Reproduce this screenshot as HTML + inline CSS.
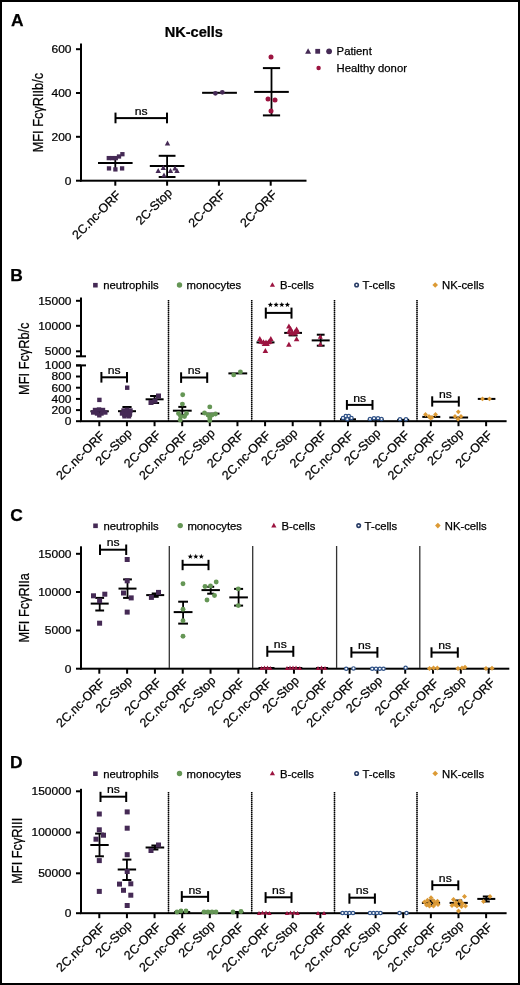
<!DOCTYPE html>
<html><head><meta charset="utf-8"><style>
html,body{margin:0;padding:0;background:#fff;}
svg{display:block;will-change:transform;}
text{font-family:"Liberation Sans", sans-serif;stroke:#000;stroke-width:0.25px;}
</style></head><body>
<svg width="520" height="985" viewBox="0 0 520 985">
<rect x="0" y="0" width="520" height="985" fill="#fff"/>
<rect x="0.00" y="0.00" width="520.00" height="2.00" fill="#000"/>
<rect x="0.00" y="983.00" width="520.00" height="2.00" fill="#000"/>
<rect x="0.00" y="0.00" width="2.00" height="985.00" fill="#000"/>
<rect x="518.00" y="0.00" width="2.00" height="985.00" fill="#000"/>
<text x="11.00" y="26.30" font-size="17.4" text-anchor="start" font-weight="bold" fill="#000">A</text>
<text x="0" y="0" font-size="14.6" text-anchor="middle" font-weight="bold" fill="#000" transform="translate(193.80 36.90) scale(1.0 0.95)">NK-cells</text>
<rect x="80.00" y="43.50" width="2.00" height="138.00" fill="#000"/>
<rect x="76.00" y="48.20" width="5.00" height="2.00" fill="#000"/>
<text x="0" y="0" font-size="12" text-anchor="end" font-weight="normal" fill="#000" transform="translate(71.50 53.05) scale(1.0 0.87)">600</text>
<rect x="76.00" y="92.00" width="5.00" height="2.00" fill="#000"/>
<text x="0" y="0" font-size="12" text-anchor="end" font-weight="normal" fill="#000" transform="translate(71.50 96.85) scale(1.0 0.87)">400</text>
<rect x="76.00" y="135.80" width="5.00" height="2.00" fill="#000"/>
<text x="0" y="0" font-size="12" text-anchor="end" font-weight="normal" fill="#000" transform="translate(71.50 140.65) scale(1.0 0.87)">200</text>
<rect x="76.00" y="179.70" width="5.00" height="2.00" fill="#000"/>
<text x="0" y="0" font-size="12" text-anchor="end" font-weight="normal" fill="#000" transform="translate(71.50 184.55) scale(1.0 0.87)">0</text>
<rect x="80.00" y="179.70" width="226.50" height="2.00" fill="#000"/>
<rect x="114.30" y="180.70" width="2.00" height="5.00" fill="#000"/>
<rect x="166.10" y="180.70" width="2.00" height="5.00" fill="#000"/>
<rect x="217.90" y="180.70" width="2.00" height="5.00" fill="#000"/>
<rect x="269.70" y="180.70" width="2.00" height="5.00" fill="#000"/>
<text x="121.60" y="195.80" font-size="12.4" text-anchor="end" font-weight="normal" fill="#000" transform="rotate(-45 121.60 195.80)">2C.nc-ORF</text>
<text x="172.90" y="193.40" font-size="12.4" text-anchor="end" font-weight="normal" fill="#000" transform="rotate(-45 172.90 193.40)">2C-Stop</text>
<text x="226.00" y="195.30" font-size="12.4" text-anchor="end" font-weight="normal" fill="#000" transform="rotate(-45 226.00 195.30)">2C-ORF</text>
<text x="277.80" y="195.30" font-size="12.4" text-anchor="end" font-weight="normal" fill="#000" transform="rotate(-45 277.80 195.30)">2C-ORF</text>
<text x="0" y="0" font-size="15.5" text-anchor="middle" font-weight="normal" fill="#000" transform="translate(42.70 112.60) rotate(-90) scale(0.825 1.0)">MFI Fc&#947;RIIb/c</text>
<text x="336.60" y="54.60" font-size="11.3" text-anchor="start" font-weight="normal" fill="#000">Patient</text>
<text x="336.60" y="72.30" font-size="11.3" text-anchor="start" font-weight="normal" fill="#000">Healthy donor</text>
<text x="10.30" y="280.50" font-size="17.4" text-anchor="start" font-weight="bold" fill="#000">B</text>
<text x="103.30" y="289.00" font-size="11.3" text-anchor="start" font-weight="normal" fill="#000">neutrophils</text>
<text x="186.60" y="289.00" font-size="11.3" text-anchor="start" font-weight="normal" fill="#000">monocytes</text>
<text x="280.00" y="289.00" font-size="11.3" text-anchor="start" font-weight="normal" fill="#000">B-cells</text>
<text x="362.50" y="289.00" font-size="11.3" text-anchor="start" font-weight="normal" fill="#000">T-cells</text>
<text x="442.00" y="289.00" font-size="11.3" text-anchor="start" font-weight="normal" fill="#000">NK-cells</text>
<rect x="80.00" y="297.50" width="2.00" height="58.80" fill="#000"/>
<rect x="76.00" y="355.30" width="10.00" height="2.00" fill="#000"/>
<rect x="80.00" y="365.40" width="2.00" height="56.60" fill="#000"/>
<rect x="76.00" y="364.40" width="10.00" height="2.00" fill="#000"/>
<rect x="76.00" y="299.80" width="5.00" height="2.00" fill="#000"/>
<text x="0" y="0" font-size="12" text-anchor="end" font-weight="normal" fill="#000" transform="translate(71.50 304.65) scale(1.0 0.87)">15000</text>
<rect x="76.00" y="324.80" width="5.00" height="2.00" fill="#000"/>
<text x="0" y="0" font-size="12" text-anchor="end" font-weight="normal" fill="#000" transform="translate(71.50 329.65) scale(1.0 0.87)">10000</text>
<rect x="76.00" y="350.30" width="5.00" height="2.00" fill="#000"/>
<text x="0" y="0" font-size="12" text-anchor="end" font-weight="normal" fill="#000" transform="translate(71.50 355.15) scale(1.0 0.87)">5000</text>
<rect x="76.00" y="364.40" width="5.00" height="2.00" fill="#000"/>
<text x="0" y="0" font-size="12" text-anchor="end" font-weight="normal" fill="#000" transform="translate(71.50 369.25) scale(1.0 0.87)">1000</text>
<rect x="76.00" y="375.50" width="5.00" height="2.00" fill="#000"/>
<text x="0" y="0" font-size="12" text-anchor="end" font-weight="normal" fill="#000" transform="translate(71.50 380.35) scale(1.0 0.87)">800</text>
<rect x="76.00" y="386.70" width="5.00" height="2.00" fill="#000"/>
<text x="0" y="0" font-size="12" text-anchor="end" font-weight="normal" fill="#000" transform="translate(71.50 391.55) scale(1.0 0.87)">600</text>
<rect x="76.00" y="397.90" width="5.00" height="2.00" fill="#000"/>
<text x="0" y="0" font-size="12" text-anchor="end" font-weight="normal" fill="#000" transform="translate(71.50 402.75) scale(1.0 0.87)">400</text>
<rect x="76.00" y="409.10" width="5.00" height="2.00" fill="#000"/>
<text x="0" y="0" font-size="12" text-anchor="end" font-weight="normal" fill="#000" transform="translate(71.50 413.95) scale(1.0 0.87)">200</text>
<rect x="76.00" y="420.20" width="5.00" height="2.00" fill="#000"/>
<text x="0" y="0" font-size="12" text-anchor="end" font-weight="normal" fill="#000" transform="translate(71.50 425.05) scale(1.0 0.87)">0</text>
<rect x="80.00" y="420.20" width="426.60" height="2.00" fill="#000"/>
<rect x="98.30" y="421.20" width="2.00" height="5.00" fill="#000"/>
<rect x="125.93" y="421.20" width="2.00" height="5.00" fill="#000"/>
<rect x="153.56" y="421.20" width="2.00" height="5.00" fill="#000"/>
<rect x="181.19" y="421.20" width="2.00" height="5.00" fill="#000"/>
<rect x="208.82" y="421.20" width="2.00" height="5.00" fill="#000"/>
<rect x="236.45" y="421.20" width="2.00" height="5.00" fill="#000"/>
<rect x="264.08" y="421.20" width="2.00" height="5.00" fill="#000"/>
<rect x="291.71" y="421.20" width="2.00" height="5.00" fill="#000"/>
<rect x="319.34" y="421.20" width="2.00" height="5.00" fill="#000"/>
<rect x="346.97" y="421.20" width="2.00" height="5.00" fill="#000"/>
<rect x="374.60" y="421.20" width="2.00" height="5.00" fill="#000"/>
<rect x="402.23" y="421.20" width="2.00" height="5.00" fill="#000"/>
<rect x="429.86" y="421.20" width="2.00" height="5.00" fill="#000"/>
<rect x="457.49" y="421.20" width="2.00" height="5.00" fill="#000"/>
<rect x="485.12" y="421.20" width="2.00" height="5.00" fill="#000"/>
<text x="105.60" y="436.30" font-size="12.4" text-anchor="end" font-weight="normal" fill="#000" transform="rotate(-45 105.60 436.30)">2C.nc-ORF</text>
<text x="132.73" y="433.90" font-size="12.4" text-anchor="end" font-weight="normal" fill="#000" transform="rotate(-45 132.73 433.90)">2C-Stop</text>
<text x="161.66" y="435.80" font-size="12.4" text-anchor="end" font-weight="normal" fill="#000" transform="rotate(-45 161.66 435.80)">2C-ORF</text>
<text x="188.49" y="436.30" font-size="12.4" text-anchor="end" font-weight="normal" fill="#000" transform="rotate(-45 188.49 436.30)">2C.nc-ORF</text>
<text x="215.62" y="433.90" font-size="12.4" text-anchor="end" font-weight="normal" fill="#000" transform="rotate(-45 215.62 433.90)">2C-Stop</text>
<text x="244.55" y="435.80" font-size="12.4" text-anchor="end" font-weight="normal" fill="#000" transform="rotate(-45 244.55 435.80)">2C-ORF</text>
<text x="271.38" y="436.30" font-size="12.4" text-anchor="end" font-weight="normal" fill="#000" transform="rotate(-45 271.38 436.30)">2C.nc-ORF</text>
<text x="298.51" y="433.90" font-size="12.4" text-anchor="end" font-weight="normal" fill="#000" transform="rotate(-45 298.51 433.90)">2C-Stop</text>
<text x="327.44" y="435.80" font-size="12.4" text-anchor="end" font-weight="normal" fill="#000" transform="rotate(-45 327.44 435.80)">2C-ORF</text>
<text x="354.27" y="436.30" font-size="12.4" text-anchor="end" font-weight="normal" fill="#000" transform="rotate(-45 354.27 436.30)">2C.nc-ORF</text>
<text x="381.40" y="433.90" font-size="12.4" text-anchor="end" font-weight="normal" fill="#000" transform="rotate(-45 381.40 433.90)">2C-Stop</text>
<text x="410.33" y="435.80" font-size="12.4" text-anchor="end" font-weight="normal" fill="#000" transform="rotate(-45 410.33 435.80)">2C-ORF</text>
<text x="437.16" y="436.30" font-size="12.4" text-anchor="end" font-weight="normal" fill="#000" transform="rotate(-45 437.16 436.30)">2C.nc-ORF</text>
<text x="464.29" y="433.90" font-size="12.4" text-anchor="end" font-weight="normal" fill="#000" transform="rotate(-45 464.29 433.90)">2C-Stop</text>
<text x="493.22" y="435.80" font-size="12.4" text-anchor="end" font-weight="normal" fill="#000" transform="rotate(-45 493.22 435.80)">2C-ORF</text>
<line x1="168.5" y1="300" x2="168.5" y2="421" stroke="#888" stroke-width="1.2"/>
<line x1="168.5" y1="300" x2="168.5" y2="421" stroke="#000" stroke-width="1.5" stroke-dasharray="1.3,0.7"/>
<line x1="251.7" y1="300" x2="251.7" y2="421" stroke="#888" stroke-width="1.2"/>
<line x1="251.7" y1="300" x2="251.7" y2="421" stroke="#000" stroke-width="1.5" stroke-dasharray="1.3,0.7"/>
<line x1="334.5" y1="300" x2="334.5" y2="421" stroke="#888" stroke-width="1.2"/>
<line x1="334.5" y1="300" x2="334.5" y2="421" stroke="#000" stroke-width="1.5" stroke-dasharray="1.3,0.7"/>
<line x1="417.0" y1="300" x2="417.0" y2="421" stroke="#888" stroke-width="1.2"/>
<line x1="417.0" y1="300" x2="417.0" y2="421" stroke="#000" stroke-width="1.5" stroke-dasharray="1.3,0.7"/>
<text x="0" y="0" font-size="15.5" text-anchor="middle" font-weight="normal" fill="#000" transform="translate(28.80 358.70) rotate(-90) scale(0.825 1.0)">MFI Fc&#947;Rb/c</text>
<text x="10.30" y="520.80" font-size="17.4" text-anchor="start" font-weight="bold" fill="#000">C</text>
<text x="103.47" y="529.60" font-size="11.3" text-anchor="start" font-weight="normal" fill="#000">neutrophils</text>
<text x="187.40" y="529.60" font-size="11.3" text-anchor="start" font-weight="normal" fill="#000">monocytes</text>
<text x="281.50" y="529.60" font-size="11.3" text-anchor="start" font-weight="normal" fill="#000">B-cells</text>
<text x="364.62" y="529.60" font-size="11.3" text-anchor="start" font-weight="normal" fill="#000">T-cells</text>
<text x="444.72" y="529.60" font-size="11.3" text-anchor="start" font-weight="normal" fill="#000">NK-cells</text>
<rect x="80.00" y="546.30" width="2.00" height="123.40" fill="#000"/>
<rect x="76.00" y="552.80" width="5.00" height="2.00" fill="#000"/>
<text x="0" y="0" font-size="12" text-anchor="end" font-weight="normal" fill="#000" transform="translate(71.50 557.65) scale(1.0 0.87)">15000</text>
<rect x="76.00" y="591.00" width="5.00" height="2.00" fill="#000"/>
<text x="0" y="0" font-size="12" text-anchor="end" font-weight="normal" fill="#000" transform="translate(71.50 595.85) scale(1.0 0.87)">10000</text>
<rect x="76.00" y="629.50" width="5.00" height="2.00" fill="#000"/>
<text x="0" y="0" font-size="12" text-anchor="end" font-weight="normal" fill="#000" transform="translate(71.50 634.35) scale(1.0 0.87)">5000</text>
<rect x="76.00" y="667.70" width="5.00" height="2.00" fill="#000"/>
<text x="0" y="0" font-size="12" text-anchor="end" font-weight="normal" fill="#000" transform="translate(71.50 672.55) scale(1.0 0.87)">0</text>
<rect x="80.00" y="667.70" width="429.30" height="2.00" fill="#000"/>
<rect x="98.30" y="668.70" width="2.00" height="5.00" fill="#000"/>
<rect x="126.11" y="668.70" width="2.00" height="5.00" fill="#000"/>
<rect x="153.92" y="668.70" width="2.00" height="5.00" fill="#000"/>
<rect x="181.73" y="668.70" width="2.00" height="5.00" fill="#000"/>
<rect x="209.54" y="668.70" width="2.00" height="5.00" fill="#000"/>
<rect x="237.35" y="668.70" width="2.00" height="5.00" fill="#000"/>
<rect x="265.16" y="668.70" width="2.00" height="5.00" fill="#000"/>
<rect x="292.97" y="668.70" width="2.00" height="5.00" fill="#000"/>
<rect x="320.78" y="668.70" width="2.00" height="5.00" fill="#000"/>
<rect x="348.59" y="668.70" width="2.00" height="5.00" fill="#000"/>
<rect x="376.40" y="668.70" width="2.00" height="5.00" fill="#000"/>
<rect x="404.21" y="668.70" width="2.00" height="5.00" fill="#000"/>
<rect x="432.02" y="668.70" width="2.00" height="5.00" fill="#000"/>
<rect x="459.83" y="668.70" width="2.00" height="5.00" fill="#000"/>
<rect x="487.64" y="668.70" width="2.00" height="5.00" fill="#000"/>
<text x="105.60" y="683.80" font-size="12.4" text-anchor="end" font-weight="normal" fill="#000" transform="rotate(-45 105.60 683.80)">2C.nc-ORF</text>
<text x="132.91" y="681.40" font-size="12.4" text-anchor="end" font-weight="normal" fill="#000" transform="rotate(-45 132.91 681.40)">2C-Stop</text>
<text x="162.02" y="683.30" font-size="12.4" text-anchor="end" font-weight="normal" fill="#000" transform="rotate(-45 162.02 683.30)">2C-ORF</text>
<text x="189.03" y="683.80" font-size="12.4" text-anchor="end" font-weight="normal" fill="#000" transform="rotate(-45 189.03 683.80)">2C.nc-ORF</text>
<text x="216.34" y="681.40" font-size="12.4" text-anchor="end" font-weight="normal" fill="#000" transform="rotate(-45 216.34 681.40)">2C-Stop</text>
<text x="245.45" y="683.30" font-size="12.4" text-anchor="end" font-weight="normal" fill="#000" transform="rotate(-45 245.45 683.30)">2C-ORF</text>
<text x="272.46" y="683.80" font-size="12.4" text-anchor="end" font-weight="normal" fill="#000" transform="rotate(-45 272.46 683.80)">2C.nc-ORF</text>
<text x="299.77" y="681.40" font-size="12.4" text-anchor="end" font-weight="normal" fill="#000" transform="rotate(-45 299.77 681.40)">2C-Stop</text>
<text x="328.88" y="683.30" font-size="12.4" text-anchor="end" font-weight="normal" fill="#000" transform="rotate(-45 328.88 683.30)">2C-ORF</text>
<text x="355.89" y="683.80" font-size="12.4" text-anchor="end" font-weight="normal" fill="#000" transform="rotate(-45 355.89 683.80)">2C.nc-ORF</text>
<text x="383.20" y="681.40" font-size="12.4" text-anchor="end" font-weight="normal" fill="#000" transform="rotate(-45 383.20 681.40)">2C-Stop</text>
<text x="412.31" y="683.30" font-size="12.4" text-anchor="end" font-weight="normal" fill="#000" transform="rotate(-45 412.31 683.30)">2C-ORF</text>
<text x="439.32" y="683.80" font-size="12.4" text-anchor="end" font-weight="normal" fill="#000" transform="rotate(-45 439.32 683.80)">2C.nc-ORF</text>
<text x="466.63" y="681.40" font-size="12.4" text-anchor="end" font-weight="normal" fill="#000" transform="rotate(-45 466.63 681.40)">2C-Stop</text>
<text x="495.74" y="683.30" font-size="12.4" text-anchor="end" font-weight="normal" fill="#000" transform="rotate(-45 495.74 683.30)">2C-ORF</text>
<line x1="169.3" y1="546" x2="169.3" y2="668" stroke="#333" stroke-width="1.3"/>
<line x1="252.7" y1="546" x2="252.7" y2="668" stroke="#333" stroke-width="1.3"/>
<line x1="336.6" y1="546" x2="336.6" y2="668" stroke="#333" stroke-width="1.3"/>
<line x1="419.8" y1="546" x2="419.8" y2="668" stroke="#333" stroke-width="1.3"/>
<text x="0" y="0" font-size="15.5" text-anchor="middle" font-weight="normal" fill="#000" transform="translate(28.90 607.80) rotate(-90) scale(0.825 1.0)">MFI Fc&#947;RIIa</text>
<text x="10.10" y="768.20" font-size="17.4" text-anchor="start" font-weight="bold" fill="#000">D</text>
<text x="103.30" y="777.50" font-size="11.3" text-anchor="start" font-weight="normal" fill="#000">neutrophils</text>
<text x="186.60" y="777.50" font-size="11.3" text-anchor="start" font-weight="normal" fill="#000">monocytes</text>
<text x="280.00" y="777.50" font-size="11.3" text-anchor="start" font-weight="normal" fill="#000">B-cells</text>
<text x="362.50" y="777.50" font-size="11.3" text-anchor="start" font-weight="normal" fill="#000">T-cells</text>
<text x="442.00" y="777.50" font-size="11.3" text-anchor="start" font-weight="normal" fill="#000">NK-cells</text>
<rect x="80.00" y="788.80" width="2.00" height="125.20" fill="#000"/>
<rect x="76.00" y="790.30" width="5.00" height="2.00" fill="#000"/>
<text x="0" y="0" font-size="12" text-anchor="end" font-weight="normal" fill="#000" transform="translate(71.50 795.15) scale(1.0 0.87)">150000</text>
<rect x="76.00" y="831.50" width="5.00" height="2.00" fill="#000"/>
<text x="0" y="0" font-size="12" text-anchor="end" font-weight="normal" fill="#000" transform="translate(71.50 836.35) scale(1.0 0.87)">100000</text>
<rect x="76.00" y="872.30" width="5.00" height="2.00" fill="#000"/>
<text x="0" y="0" font-size="12" text-anchor="end" font-weight="normal" fill="#000" transform="translate(71.50 877.15) scale(1.0 0.87)">50000</text>
<rect x="76.00" y="912.20" width="5.00" height="2.00" fill="#000"/>
<text x="0" y="0" font-size="12" text-anchor="end" font-weight="normal" fill="#000" transform="translate(71.50 917.05) scale(1.0 0.87)">0</text>
<rect x="80.00" y="912.20" width="426.60" height="2.00" fill="#000"/>
<rect x="98.30" y="913.20" width="2.00" height="5.00" fill="#000"/>
<rect x="125.93" y="913.20" width="2.00" height="5.00" fill="#000"/>
<rect x="153.56" y="913.20" width="2.00" height="5.00" fill="#000"/>
<rect x="181.19" y="913.20" width="2.00" height="5.00" fill="#000"/>
<rect x="208.82" y="913.20" width="2.00" height="5.00" fill="#000"/>
<rect x="236.45" y="913.20" width="2.00" height="5.00" fill="#000"/>
<rect x="264.08" y="913.20" width="2.00" height="5.00" fill="#000"/>
<rect x="291.71" y="913.20" width="2.00" height="5.00" fill="#000"/>
<rect x="319.34" y="913.20" width="2.00" height="5.00" fill="#000"/>
<rect x="346.97" y="913.20" width="2.00" height="5.00" fill="#000"/>
<rect x="374.60" y="913.20" width="2.00" height="5.00" fill="#000"/>
<rect x="402.23" y="913.20" width="2.00" height="5.00" fill="#000"/>
<rect x="429.86" y="913.20" width="2.00" height="5.00" fill="#000"/>
<rect x="457.49" y="913.20" width="2.00" height="5.00" fill="#000"/>
<rect x="485.12" y="913.20" width="2.00" height="5.00" fill="#000"/>
<text x="105.60" y="928.30" font-size="12.4" text-anchor="end" font-weight="normal" fill="#000" transform="rotate(-45 105.60 928.30)">2C.nc-ORF</text>
<text x="132.73" y="925.90" font-size="12.4" text-anchor="end" font-weight="normal" fill="#000" transform="rotate(-45 132.73 925.90)">2C-Stop</text>
<text x="161.66" y="927.80" font-size="12.4" text-anchor="end" font-weight="normal" fill="#000" transform="rotate(-45 161.66 927.80)">2C-ORF</text>
<text x="188.49" y="928.30" font-size="12.4" text-anchor="end" font-weight="normal" fill="#000" transform="rotate(-45 188.49 928.30)">2C.nc-ORF</text>
<text x="215.62" y="925.90" font-size="12.4" text-anchor="end" font-weight="normal" fill="#000" transform="rotate(-45 215.62 925.90)">2C-Stop</text>
<text x="244.55" y="927.80" font-size="12.4" text-anchor="end" font-weight="normal" fill="#000" transform="rotate(-45 244.55 927.80)">2C-ORF</text>
<text x="271.38" y="928.30" font-size="12.4" text-anchor="end" font-weight="normal" fill="#000" transform="rotate(-45 271.38 928.30)">2C.nc-ORF</text>
<text x="298.51" y="925.90" font-size="12.4" text-anchor="end" font-weight="normal" fill="#000" transform="rotate(-45 298.51 925.90)">2C-Stop</text>
<text x="327.44" y="927.80" font-size="12.4" text-anchor="end" font-weight="normal" fill="#000" transform="rotate(-45 327.44 927.80)">2C-ORF</text>
<text x="354.27" y="928.30" font-size="12.4" text-anchor="end" font-weight="normal" fill="#000" transform="rotate(-45 354.27 928.30)">2C.nc-ORF</text>
<text x="381.40" y="925.90" font-size="12.4" text-anchor="end" font-weight="normal" fill="#000" transform="rotate(-45 381.40 925.90)">2C-Stop</text>
<text x="410.33" y="927.80" font-size="12.4" text-anchor="end" font-weight="normal" fill="#000" transform="rotate(-45 410.33 927.80)">2C-ORF</text>
<text x="437.16" y="928.30" font-size="12.4" text-anchor="end" font-weight="normal" fill="#000" transform="rotate(-45 437.16 928.30)">2C.nc-ORF</text>
<text x="464.29" y="925.90" font-size="12.4" text-anchor="end" font-weight="normal" fill="#000" transform="rotate(-45 464.29 925.90)">2C-Stop</text>
<text x="493.22" y="927.80" font-size="12.4" text-anchor="end" font-weight="normal" fill="#000" transform="rotate(-45 493.22 927.80)">2C-ORF</text>
<line x1="168.5" y1="792" x2="168.5" y2="913" stroke="#888" stroke-width="1.2"/>
<line x1="168.5" y1="792" x2="168.5" y2="913" stroke="#000" stroke-width="1.5" stroke-dasharray="1.3,0.7"/>
<line x1="251.7" y1="792" x2="251.7" y2="913" stroke="#888" stroke-width="1.2"/>
<line x1="251.7" y1="792" x2="251.7" y2="913" stroke="#000" stroke-width="1.5" stroke-dasharray="1.3,0.7"/>
<line x1="334.5" y1="792" x2="334.5" y2="913" stroke="#888" stroke-width="1.2"/>
<line x1="334.5" y1="792" x2="334.5" y2="913" stroke="#000" stroke-width="1.5" stroke-dasharray="1.3,0.7"/>
<line x1="417.0" y1="792" x2="417.0" y2="913" stroke="#888" stroke-width="1.2"/>
<line x1="417.0" y1="792" x2="417.0" y2="913" stroke="#000" stroke-width="1.5" stroke-dasharray="1.3,0.7"/>
<text x="0" y="0" font-size="15.5" text-anchor="middle" font-weight="normal" fill="#000" transform="translate(22.00 850.80) rotate(-90) scale(0.825 1.0)">MFI Fc&#947;RIII</text>
<rect x="98.00" y="162.00" width="34.60" height="2.00" fill="#000"/>
<rect x="114.40" y="157.50" width="1.80" height="5.50" fill="#000"/>
<rect x="114.40" y="163.00" width="1.80" height="5.50" fill="#000"/>
<rect x="149.80" y="165.00" width="34.60" height="2.00" fill="#000"/>
<rect x="166.20" y="155.80" width="1.80" height="10.20" fill="#000"/>
<rect x="158.70" y="154.80" width="16.80" height="2.00" fill="#000"/>
<rect x="166.20" y="166.00" width="1.80" height="11.00" fill="#000"/>
<rect x="158.70" y="176.00" width="16.80" height="2.00" fill="#000"/>
<rect x="202.10" y="91.80" width="34.80" height="2.00" fill="#000"/>
<rect x="254.20" y="90.90" width="34.60" height="2.00" fill="#000"/>
<rect x="270.60" y="68.10" width="1.80" height="23.80" fill="#000"/>
<rect x="262.90" y="67.10" width="17.20" height="2.00" fill="#000"/>
<rect x="270.60" y="91.90" width="1.80" height="23.50" fill="#000"/>
<rect x="262.90" y="114.40" width="17.20" height="2.00" fill="#000"/>
<rect x="115.50" y="117.10" width="51.50" height="2.00" fill="#000"/>
<rect x="114.50" y="112.60" width="2.00" height="10.70" fill="#000"/>
<rect x="166.00" y="112.60" width="2.00" height="10.70" fill="#000"/>
<text x="0" y="0" font-size="12.2" text-anchor="middle" font-weight="normal" fill="#000" transform="translate(141.25 114.80) scale(1.0 0.87)">ns</text>
<rect x="90.40" y="410.30" width="18.40" height="2.00" fill="#000"/>
<rect x="98.70" y="409.00" width="1.80" height="2.30" fill="#000"/>
<rect x="98.70" y="411.30" width="1.80" height="2.70" fill="#000"/>
<rect x="118.00" y="410.20" width="18.00" height="2.00" fill="#000"/>
<rect x="126.10" y="407.00" width="1.80" height="4.20" fill="#000"/>
<rect x="122.40" y="406.00" width="9.20" height="2.00" fill="#000"/>
<rect x="126.10" y="411.20" width="1.80" height="4.80" fill="#000"/>
<rect x="122.40" y="415.00" width="9.20" height="2.00" fill="#000"/>
<rect x="145.60" y="398.30" width="18.00" height="2.00" fill="#000"/>
<rect x="153.70" y="396.00" width="1.80" height="3.30" fill="#000"/>
<rect x="150.10" y="395.00" width="9.00" height="2.00" fill="#000"/>
<rect x="153.70" y="399.30" width="1.80" height="3.70" fill="#000"/>
<rect x="150.10" y="402.00" width="9.00" height="2.00" fill="#000"/>
<rect x="101.40" y="376.30" width="25.60" height="2.00" fill="#000"/>
<rect x="100.40" y="372.00" width="2.00" height="10.60" fill="#000"/>
<rect x="126.00" y="372.00" width="2.00" height="10.60" fill="#000"/>
<text x="0" y="0" font-size="12.2" text-anchor="middle" font-weight="normal" fill="#000" transform="translate(114.20 374.00) scale(1.0 0.87)">ns</text>
<rect x="172.90" y="409.70" width="18.80" height="2.00" fill="#000"/>
<rect x="181.40" y="406.90" width="1.80" height="3.80" fill="#000"/>
<rect x="178.30" y="405.90" width="8.00" height="2.00" fill="#000"/>
<rect x="181.40" y="410.70" width="1.80" height="4.30" fill="#000"/>
<rect x="178.30" y="414.00" width="8.00" height="2.00" fill="#000"/>
<rect x="200.70" y="412.60" width="18.80" height="2.00" fill="#000"/>
<rect x="228.40" y="372.40" width="18.80" height="2.00" fill="#000"/>
<rect x="181.10" y="376.50" width="26.10" height="2.00" fill="#000"/>
<rect x="180.10" y="372.30" width="2.00" height="10.60" fill="#000"/>
<rect x="206.20" y="372.30" width="2.00" height="10.60" fill="#000"/>
<text x="0" y="0" font-size="12.2" text-anchor="middle" font-weight="normal" fill="#000" transform="translate(194.15 374.20) scale(1.0 0.87)">ns</text>
<rect x="256.50" y="341.40" width="18.00" height="2.00" fill="#000"/>
<rect x="284.20" y="331.90" width="17.80" height="2.00" fill="#000"/>
<rect x="292.20" y="332.90" width="1.80" height="2.50" fill="#000"/>
<rect x="288.60" y="334.40" width="9.00" height="2.00" fill="#000"/>
<rect x="311.70" y="339.40" width="18.00" height="2.00" fill="#000"/>
<rect x="319.80" y="334.70" width="1.80" height="5.70" fill="#000"/>
<rect x="316.80" y="333.70" width="7.80" height="2.00" fill="#000"/>
<rect x="319.80" y="340.40" width="1.80" height="5.30" fill="#000"/>
<rect x="316.80" y="344.70" width="7.80" height="2.00" fill="#000"/>
<rect x="265.80" y="311.90" width="25.70" height="2.00" fill="#000"/>
<rect x="264.80" y="307.60" width="2.00" height="11.00" fill="#000"/>
<rect x="290.50" y="307.60" width="2.00" height="11.00" fill="#000"/>
<polygon points="270.40,302.00 271.08,303.87 273.06,303.93 271.49,305.16 272.05,307.07 270.40,305.95 268.75,307.07 269.31,305.16 267.74,303.93 269.72,303.87" fill="#000"/>
<polygon points="276.10,302.00 276.78,303.87 278.76,303.93 277.19,305.16 277.75,307.07 276.10,305.95 274.45,307.07 275.01,305.16 273.44,303.93 275.42,303.87" fill="#000"/>
<polygon points="281.80,302.00 282.48,303.87 284.46,303.93 282.89,305.16 283.45,307.07 281.80,305.95 280.15,307.07 280.71,305.16 279.14,303.93 281.12,303.87" fill="#000"/>
<polygon points="287.40,302.00 288.08,303.87 290.06,303.93 288.49,305.16 289.05,307.07 287.40,305.95 285.75,307.07 286.31,305.16 284.74,303.93 286.72,303.87" fill="#000"/>
<rect x="340.00" y="418.30" width="16.00" height="2.00" fill="#000"/>
<rect x="367.70" y="418.60" width="16.00" height="2.00" fill="#000"/>
<rect x="397.20" y="418.80" width="12.00" height="2.00" fill="#000"/>
<rect x="346.90" y="403.90" width="25.60" height="2.00" fill="#000"/>
<rect x="345.90" y="400.00" width="2.00" height="9.80" fill="#000"/>
<rect x="371.50" y="400.00" width="2.00" height="9.80" fill="#000"/>
<text x="0" y="0" font-size="12.2" text-anchor="middle" font-weight="normal" fill="#000" transform="translate(359.70 401.60) scale(1.0 0.87)">ns</text>
<rect x="422.30" y="415.90" width="18.00" height="2.00" fill="#000"/>
<rect x="449.30" y="416.50" width="18.80" height="2.00" fill="#000"/>
<rect x="477.80" y="397.90" width="17.60" height="2.00" fill="#000"/>
<rect x="432.20" y="400.70" width="26.60" height="2.00" fill="#000"/>
<rect x="431.20" y="396.30" width="2.00" height="10.30" fill="#000"/>
<rect x="457.80" y="396.30" width="2.00" height="10.30" fill="#000"/>
<text x="0" y="0" font-size="12.2" text-anchor="middle" font-weight="normal" fill="#000" transform="translate(445.50 398.40) scale(1.0 0.87)">ns</text>
<rect x="90.70" y="602.60" width="18.00" height="2.00" fill="#000"/>
<rect x="98.80" y="597.90" width="1.80" height="5.70" fill="#000"/>
<rect x="95.30" y="596.90" width="8.80" height="2.00" fill="#000"/>
<rect x="98.80" y="603.60" width="1.80" height="6.90" fill="#000"/>
<rect x="95.30" y="609.50" width="8.80" height="2.00" fill="#000"/>
<rect x="118.50" y="587.60" width="18.00" height="2.00" fill="#000"/>
<rect x="126.60" y="579.40" width="1.80" height="9.20" fill="#000"/>
<rect x="123.10" y="578.40" width="8.80" height="2.00" fill="#000"/>
<rect x="126.60" y="588.60" width="1.80" height="9.30" fill="#000"/>
<rect x="123.10" y="596.90" width="8.80" height="2.00" fill="#000"/>
<rect x="146.20" y="594.10" width="18.00" height="2.00" fill="#000"/>
<rect x="154.30" y="593.50" width="1.80" height="1.60" fill="#000"/>
<rect x="151.70" y="592.50" width="7.00" height="2.00" fill="#000"/>
<rect x="154.30" y="595.10" width="1.80" height="1.70" fill="#000"/>
<rect x="151.70" y="595.80" width="7.00" height="2.00" fill="#000"/>
<rect x="100.00" y="548.70" width="26.20" height="2.00" fill="#000"/>
<rect x="99.00" y="544.50" width="2.00" height="10.50" fill="#000"/>
<rect x="125.20" y="544.50" width="2.00" height="10.50" fill="#000"/>
<text x="0" y="0" font-size="12.2" text-anchor="middle" font-weight="normal" fill="#000" transform="translate(113.10 546.40) scale(1.0 0.87)">ns</text>
<rect x="173.70" y="611.10" width="18.80" height="2.00" fill="#000"/>
<rect x="182.20" y="601.70" width="1.80" height="10.40" fill="#000"/>
<rect x="178.20" y="600.70" width="9.80" height="2.00" fill="#000"/>
<rect x="182.20" y="612.10" width="1.80" height="11.50" fill="#000"/>
<rect x="178.20" y="622.60" width="9.80" height="2.00" fill="#000"/>
<rect x="201.50" y="589.10" width="18.40" height="2.00" fill="#000"/>
<rect x="209.80" y="586.80" width="1.80" height="3.30" fill="#000"/>
<rect x="207.20" y="585.80" width="7.00" height="2.00" fill="#000"/>
<rect x="209.80" y="590.10" width="1.80" height="3.60" fill="#000"/>
<rect x="207.20" y="592.70" width="7.00" height="2.00" fill="#000"/>
<rect x="229.30" y="596.40" width="18.60" height="2.00" fill="#000"/>
<rect x="237.70" y="588.90" width="1.80" height="8.50" fill="#000"/>
<rect x="234.10" y="587.90" width="9.00" height="2.00" fill="#000"/>
<rect x="237.70" y="597.40" width="1.80" height="8.20" fill="#000"/>
<rect x="234.10" y="604.60" width="9.00" height="2.00" fill="#000"/>
<rect x="182.60" y="563.80" width="25.90" height="2.00" fill="#000"/>
<rect x="181.60" y="559.80" width="2.00" height="10.40" fill="#000"/>
<rect x="207.50" y="559.80" width="2.00" height="10.40" fill="#000"/>
<polygon points="190.30,553.80 190.98,555.67 192.96,555.73 191.39,556.96 191.95,558.87 190.30,557.75 188.65,558.87 189.21,556.96 187.64,555.73 189.62,555.67" fill="#000"/>
<polygon points="195.80,553.80 196.48,555.67 198.46,555.73 196.89,556.96 197.45,558.87 195.80,557.75 194.15,558.87 194.71,556.96 193.14,555.73 195.12,555.67" fill="#000"/>
<polygon points="201.30,553.80 201.98,555.67 203.96,555.73 202.39,556.96 202.95,558.87 201.30,557.75 199.65,558.87 200.21,556.96 198.64,555.73 200.62,555.67" fill="#000"/>
<rect x="258.50" y="667.00" width="16.00" height="2.00" fill="#000"/>
<rect x="286.30" y="667.00" width="16.00" height="2.00" fill="#000"/>
<rect x="316.10" y="667.00" width="12.00" height="2.00" fill="#000"/>
<rect x="267.30" y="650.60" width="26.00" height="2.00" fill="#000"/>
<rect x="266.30" y="645.90" width="2.00" height="10.90" fill="#000"/>
<rect x="292.30" y="645.90" width="2.00" height="10.90" fill="#000"/>
<text x="0" y="0" font-size="12.2" text-anchor="middle" font-weight="normal" fill="#000" transform="translate(280.30 648.30) scale(1.0 0.87)">ns</text>
<rect x="351.40" y="651.50" width="26.00" height="2.00" fill="#000"/>
<rect x="350.40" y="647.00" width="2.00" height="10.70" fill="#000"/>
<rect x="376.40" y="647.00" width="2.00" height="10.70" fill="#000"/>
<text x="0" y="0" font-size="12.2" text-anchor="middle" font-weight="normal" fill="#000" transform="translate(364.40 649.20) scale(1.0 0.87)">ns</text>
<rect x="431.50" y="651.50" width="26.30" height="2.00" fill="#000"/>
<rect x="430.50" y="647.30" width="2.00" height="10.40" fill="#000"/>
<rect x="456.80" y="647.30" width="2.00" height="10.40" fill="#000"/>
<text x="0" y="0" font-size="12.2" text-anchor="middle" font-weight="normal" fill="#000" transform="translate(444.65 649.20) scale(1.0 0.87)">ns</text>
<rect x="90.30" y="844.00" width="18.40" height="2.00" fill="#000"/>
<rect x="98.60" y="833.60" width="1.80" height="11.40" fill="#000"/>
<rect x="95.10" y="832.60" width="8.80" height="2.00" fill="#000"/>
<rect x="98.60" y="845.00" width="1.80" height="11.30" fill="#000"/>
<rect x="95.10" y="855.30" width="8.80" height="2.00" fill="#000"/>
<rect x="117.70" y="868.50" width="18.40" height="2.00" fill="#000"/>
<rect x="126.00" y="859.60" width="1.80" height="9.90" fill="#000"/>
<rect x="122.40" y="858.60" width="9.00" height="2.00" fill="#000"/>
<rect x="126.00" y="869.50" width="1.80" height="10.50" fill="#000"/>
<rect x="122.40" y="879.00" width="9.00" height="2.00" fill="#000"/>
<rect x="145.60" y="846.50" width="18.60" height="2.00" fill="#000"/>
<rect x="154.00" y="845.50" width="1.80" height="2.00" fill="#000"/>
<rect x="151.40" y="844.50" width="7.00" height="2.00" fill="#000"/>
<rect x="154.00" y="847.50" width="1.80" height="2.00" fill="#000"/>
<rect x="151.40" y="848.50" width="7.00" height="2.00" fill="#000"/>
<rect x="100.50" y="795.70" width="25.70" height="2.00" fill="#000"/>
<rect x="99.50" y="791.80" width="2.00" height="10.20" fill="#000"/>
<rect x="125.20" y="791.80" width="2.00" height="10.20" fill="#000"/>
<text x="0" y="0" font-size="12.2" text-anchor="middle" font-weight="normal" fill="#000" transform="translate(113.35 793.40) scale(1.0 0.87)">ns</text>
<rect x="174.20" y="911.00" width="16.00" height="2.00" fill="#000"/>
<rect x="201.80" y="911.00" width="16.00" height="2.00" fill="#000"/>
<rect x="231.40" y="911.00" width="12.00" height="2.00" fill="#000"/>
<rect x="181.80" y="895.80" width="26.30" height="2.00" fill="#000"/>
<rect x="180.80" y="891.10" width="2.00" height="10.90" fill="#000"/>
<rect x="207.10" y="891.10" width="2.00" height="10.90" fill="#000"/>
<text x="0" y="0" font-size="12.2" text-anchor="middle" font-weight="normal" fill="#000" transform="translate(194.95 893.50) scale(1.0 0.87)">ns</text>
<rect x="265.60" y="896.30" width="25.90" height="2.00" fill="#000"/>
<rect x="264.60" y="892.10" width="2.00" height="10.80" fill="#000"/>
<rect x="290.50" y="892.10" width="2.00" height="10.80" fill="#000"/>
<text x="0" y="0" font-size="12.2" text-anchor="middle" font-weight="normal" fill="#000" transform="translate(278.55 894.00) scale(1.0 0.87)">ns</text>
<rect x="349.40" y="896.70" width="25.50" height="2.00" fill="#000"/>
<rect x="348.40" y="893.40" width="2.00" height="10.30" fill="#000"/>
<rect x="373.90" y="893.40" width="2.00" height="10.30" fill="#000"/>
<text x="0" y="0" font-size="12.2" text-anchor="middle" font-weight="normal" fill="#000" transform="translate(362.15 894.40) scale(1.0 0.87)">ns</text>
<rect x="421.90" y="901.90" width="18.20" height="2.00" fill="#000"/>
<rect x="430.10" y="900.50" width="1.80" height="2.40" fill="#000"/>
<rect x="427.50" y="899.50" width="7.00" height="2.00" fill="#000"/>
<rect x="430.10" y="902.90" width="1.80" height="2.60" fill="#000"/>
<rect x="427.50" y="904.50" width="7.00" height="2.00" fill="#000"/>
<rect x="449.60" y="901.90" width="18.20" height="2.00" fill="#000"/>
<rect x="457.80" y="900.50" width="1.80" height="2.40" fill="#000"/>
<rect x="455.20" y="899.50" width="7.00" height="2.00" fill="#000"/>
<rect x="457.80" y="902.90" width="1.80" height="2.60" fill="#000"/>
<rect x="455.20" y="904.50" width="7.00" height="2.00" fill="#000"/>
<rect x="477.30" y="897.90" width="18.00" height="2.00" fill="#000"/>
<rect x="485.40" y="896.50" width="1.80" height="2.40" fill="#000"/>
<rect x="482.80" y="895.50" width="7.00" height="2.00" fill="#000"/>
<rect x="485.40" y="898.90" width="1.80" height="2.60" fill="#000"/>
<rect x="482.80" y="900.50" width="7.00" height="2.00" fill="#000"/>
<rect x="432.30" y="884.10" width="26.00" height="2.00" fill="#000"/>
<rect x="431.30" y="880.40" width="2.00" height="9.90" fill="#000"/>
<rect x="457.30" y="880.40" width="2.00" height="9.90" fill="#000"/>
<text x="0" y="0" font-size="12.2" text-anchor="middle" font-weight="normal" fill="#000" transform="translate(445.30 881.80) scale(1.0 0.87)">ns</text>
<polygon points="308.10,48.36 311.10,53.76 305.10,53.76" fill="#452a55"/>
<rect x="315.30" y="48.90" width="4.80" height="4.80" fill="#452a55"/>
<circle cx="329.10" cy="51.30" r="2.90" fill="#452a55"/>
<circle cx="318.60" cy="68.00" r="2.20" fill="#9c1440"/>
<rect x="93.10" y="282.90" width="4.60" height="4.60" fill="#452a55"/>
<circle cx="179.50" cy="285.00" r="2.70" fill="#659655"/>
<polygon points="272.40,282.19 275.00,286.87 269.80,286.87" fill="#9c1440"/>
<circle cx="356.60" cy="285.00" r="1.75" fill="#fff" stroke="#283c66" stroke-width="1.6"/>
<polygon points="435.20,282.20 438.00,285.00 435.20,287.80 432.40,285.00" fill="#dc9a35"/>
<rect x="93.22" y="523.50" width="4.60" height="4.60" fill="#452a55"/>
<circle cx="180.25" cy="525.60" r="2.70" fill="#659655"/>
<polygon points="273.84,522.79 276.44,527.47 271.24,527.47" fill="#9c1440"/>
<circle cx="358.67" cy="525.60" r="1.75" fill="#fff" stroke="#283c66" stroke-width="1.6"/>
<polygon points="437.86,522.80 440.66,525.60 437.86,528.40 435.06,525.60" fill="#dc9a35"/>
<rect x="93.10" y="771.40" width="4.60" height="4.60" fill="#452a55"/>
<circle cx="179.50" cy="773.50" r="2.70" fill="#659655"/>
<polygon points="272.40,770.69 275.00,775.37 269.80,775.37" fill="#9c1440"/>
<circle cx="356.60" cy="773.50" r="1.75" fill="#fff" stroke="#283c66" stroke-width="1.6"/>
<polygon points="435.20,770.70 438.00,773.50 435.20,776.30 432.40,773.50" fill="#dc9a35"/>
<rect x="120.25" y="152.05" width="4.30" height="4.30" fill="#452a55"/>
<rect x="106.65" y="155.95" width="4.30" height="4.30" fill="#452a55"/>
<rect x="110.15" y="155.95" width="4.30" height="4.30" fill="#452a55"/>
<rect x="113.65" y="155.95" width="4.30" height="4.30" fill="#452a55"/>
<rect x="116.85" y="154.35" width="4.30" height="4.30" fill="#452a55"/>
<rect x="106.85" y="166.25" width="4.30" height="4.30" fill="#452a55"/>
<rect x="113.25" y="167.25" width="4.30" height="4.30" fill="#452a55"/>
<rect x="119.95" y="166.25" width="4.30" height="4.30" fill="#452a55"/>
<polygon points="167.50,140.58 170.20,145.44 164.80,145.44" fill="#452a55"/>
<polygon points="158.20,168.08 160.90,172.94 155.50,172.94" fill="#452a55"/>
<polygon points="170.50,168.08 173.20,172.94 167.80,172.94" fill="#452a55"/>
<polygon points="177.00,168.08 179.70,172.94 174.30,172.94" fill="#452a55"/>
<polygon points="164.00,172.58 166.70,177.44 161.30,177.44" fill="#452a55"/>
<polygon points="163.30,165.08 166.00,169.94 160.60,169.94" fill="#452a55"/>
<polygon points="175.00,165.58 177.70,170.44 172.30,170.44" fill="#452a55"/>
<circle cx="215.40" cy="93.30" r="2.40" fill="#452a55"/>
<circle cx="222.30" cy="92.30" r="2.40" fill="#452a55"/>
<circle cx="271.00" cy="57.00" r="2.50" fill="#9c1440"/>
<circle cx="268.00" cy="99.00" r="2.50" fill="#9c1440"/>
<circle cx="275.00" cy="100.00" r="2.50" fill="#9c1440"/>
<circle cx="271.00" cy="111.00" r="2.50" fill="#9c1440"/>
<rect x="97.20" y="397.70" width="4.40" height="4.40" fill="#452a55"/>
<rect x="92.80" y="407.80" width="4.40" height="4.40" fill="#452a55"/>
<rect x="96.80" y="407.30" width="4.40" height="4.40" fill="#452a55"/>
<rect x="100.80" y="407.80" width="4.40" height="4.40" fill="#452a55"/>
<rect x="91.00" y="410.30" width="4.40" height="4.40" fill="#452a55"/>
<rect x="94.80" y="411.30" width="4.40" height="4.40" fill="#452a55"/>
<rect x="99.30" y="411.30" width="4.40" height="4.40" fill="#452a55"/>
<rect x="103.10" y="410.30" width="4.40" height="4.40" fill="#452a55"/>
<rect x="97.10" y="413.10" width="4.40" height="4.40" fill="#452a55"/>
<rect x="125.00" y="385.50" width="4.40" height="4.40" fill="#452a55"/>
<rect x="121.30" y="408.30" width="4.40" height="4.40" fill="#452a55"/>
<rect x="124.80" y="407.60" width="4.40" height="4.40" fill="#452a55"/>
<rect x="128.30" y="408.30" width="4.40" height="4.40" fill="#452a55"/>
<rect x="119.80" y="411.30" width="4.40" height="4.40" fill="#452a55"/>
<rect x="123.80" y="411.80" width="4.40" height="4.40" fill="#452a55"/>
<rect x="127.80" y="411.30" width="4.40" height="4.40" fill="#452a55"/>
<rect x="122.30" y="414.10" width="4.40" height="4.40" fill="#452a55"/>
<rect x="126.80" y="414.10" width="4.40" height="4.40" fill="#452a55"/>
<rect x="124.80" y="412.80" width="4.40" height="4.40" fill="#452a55"/>
<rect x="156.00" y="393.50" width="5.00" height="5.00" fill="#452a55"/>
<rect x="148.50" y="400.00" width="5.00" height="5.00" fill="#452a55"/>
<rect x="152.50" y="398.50" width="5.00" height="5.00" fill="#452a55"/>
<circle cx="182.70" cy="394.80" r="2.45" fill="#659655"/>
<circle cx="182.40" cy="404.10" r="2.45" fill="#659655"/>
<circle cx="178.50" cy="413.50" r="2.45" fill="#659655"/>
<circle cx="186.50" cy="413.50" r="2.45" fill="#659655"/>
<circle cx="180.70" cy="416.50" r="2.45" fill="#659655"/>
<circle cx="184.50" cy="416.50" r="2.45" fill="#659655"/>
<circle cx="180.20" cy="420.00" r="2.45" fill="#659655"/>
<circle cx="209.80" cy="406.90" r="2.45" fill="#659655"/>
<circle cx="204.50" cy="413.00" r="2.45" fill="#659655"/>
<circle cx="208.00" cy="415.00" r="2.45" fill="#659655"/>
<circle cx="212.00" cy="415.00" r="2.45" fill="#659655"/>
<circle cx="215.50" cy="414.00" r="2.45" fill="#659655"/>
<circle cx="209.80" cy="418.00" r="2.45" fill="#659655"/>
<circle cx="209.80" cy="420.50" r="2.45" fill="#659655"/>
<circle cx="233.70" cy="374.90" r="2.45" fill="#659655"/>
<circle cx="240.40" cy="371.90" r="2.45" fill="#659655"/>
<polygon points="259.80,335.98 262.60,341.02 257.00,341.02" fill="#9c1440"/>
<polygon points="270.80,335.98 273.60,341.02 268.00,341.02" fill="#9c1440"/>
<polygon points="261.00,338.78 263.80,343.82 258.20,343.82" fill="#9c1440"/>
<polygon points="263.50,339.28 266.30,344.32 260.70,344.32" fill="#9c1440"/>
<polygon points="266.00,339.48 268.80,344.52 263.20,344.52" fill="#9c1440"/>
<polygon points="268.50,339.28 271.30,344.32 265.70,344.32" fill="#9c1440"/>
<polygon points="270.00,338.78 272.80,343.82 267.20,343.82" fill="#9c1440"/>
<polygon points="264.50,340.98 267.30,346.02 261.70,346.02" fill="#9c1440"/>
<polygon points="267.00,340.98 269.80,346.02 264.20,346.02" fill="#9c1440"/>
<polygon points="265.40,347.98 268.20,353.02 262.60,353.02" fill="#9c1440"/>
<polygon points="288.90,323.48 291.70,328.52 286.10,328.52" fill="#9c1440"/>
<polygon points="290.50,325.98 293.30,331.02 287.70,331.02" fill="#9c1440"/>
<polygon points="296.60,326.48 299.40,331.52 293.80,331.52" fill="#9c1440"/>
<polygon points="289.00,328.78 291.80,333.82 286.20,333.82" fill="#9c1440"/>
<polygon points="292.00,328.98 294.80,334.02 289.20,334.02" fill="#9c1440"/>
<polygon points="295.00,328.98 297.80,334.02 292.20,334.02" fill="#9c1440"/>
<polygon points="297.50,328.78 300.30,333.82 294.70,333.82" fill="#9c1440"/>
<polygon points="291.00,330.48 293.80,335.52 288.20,335.52" fill="#9c1440"/>
<polygon points="294.50,330.48 297.30,335.52 291.70,335.52" fill="#9c1440"/>
<polygon points="296.60,336.28 299.40,341.32 293.80,341.32" fill="#9c1440"/>
<polygon points="288.90,341.78 291.70,346.82 286.10,346.82" fill="#9c1440"/>
<polygon points="320.30,334.30 322.80,338.80 317.80,338.80" fill="#9c1440"/>
<polygon points="320.30,341.80 322.80,346.30 317.80,346.30" fill="#9c1440"/>
<circle cx="343.00" cy="418.00" r="1.65" fill="#fff" stroke="#2f5288" stroke-width="1.2"/>
<circle cx="345.80" cy="416.00" r="1.65" fill="#fff" stroke="#2f5288" stroke-width="1.2"/>
<circle cx="348.80" cy="416.00" r="1.65" fill="#fff" stroke="#2f5288" stroke-width="1.2"/>
<circle cx="351.50" cy="418.00" r="1.65" fill="#fff" stroke="#2f5288" stroke-width="1.2"/>
<circle cx="347.30" cy="419.20" r="1.65" fill="#fff" stroke="#2f5288" stroke-width="1.2"/>
<circle cx="370.00" cy="419.00" r="1.65" fill="#fff" stroke="#2f5288" stroke-width="1.2"/>
<circle cx="374.00" cy="418.30" r="1.65" fill="#fff" stroke="#2f5288" stroke-width="1.2"/>
<circle cx="378.00" cy="418.30" r="1.65" fill="#fff" stroke="#2f5288" stroke-width="1.2"/>
<circle cx="381.50" cy="419.00" r="1.65" fill="#fff" stroke="#2f5288" stroke-width="1.2"/>
<circle cx="400.00" cy="419.30" r="1.65" fill="#fff" stroke="#2f5288" stroke-width="1.2"/>
<circle cx="406.00" cy="419.30" r="1.65" fill="#fff" stroke="#2f5288" stroke-width="1.2"/>
<polygon points="425.50,412.10 427.90,414.50 425.50,416.90 423.10,414.50" fill="#dc9a35"/>
<polygon points="429.00,414.10 431.40,416.50 429.00,418.90 426.60,416.50" fill="#dc9a35"/>
<polygon points="432.00,415.10 434.40,417.50 432.00,419.90 429.60,417.50" fill="#dc9a35"/>
<polygon points="435.50,412.10 437.90,414.50 435.50,416.90 433.10,414.50" fill="#dc9a35"/>
<polygon points="430.50,415.60 432.90,418.00 430.50,420.40 428.10,418.00" fill="#dc9a35"/>
<polygon points="458.30,409.40 460.70,411.80 458.30,414.20 455.90,411.80" fill="#dc9a35"/>
<polygon points="455.00,414.10 457.40,416.50 455.00,418.90 452.60,416.50" fill="#dc9a35"/>
<polygon points="461.00,414.10 463.40,416.50 461.00,418.90 458.60,416.50" fill="#dc9a35"/>
<polygon points="458.00,416.60 460.40,419.00 458.00,421.40 455.60,419.00" fill="#dc9a35"/>
<polygon points="482.50,396.50 484.90,398.90 482.50,401.30 480.10,398.90" fill="#dc9a35"/>
<polygon points="489.50,396.50 491.90,398.90 489.50,401.30 487.10,398.90" fill="#dc9a35"/>
<rect x="91.00" y="593.30" width="5.00" height="5.00" fill="#452a55"/>
<rect x="102.30" y="591.70" width="5.00" height="5.00" fill="#452a55"/>
<rect x="97.10" y="598.20" width="5.00" height="5.00" fill="#452a55"/>
<rect x="97.10" y="620.70" width="5.00" height="5.00" fill="#452a55"/>
<rect x="124.70" y="557.00" width="5.00" height="5.00" fill="#452a55"/>
<rect x="124.70" y="578.30" width="5.00" height="5.00" fill="#452a55"/>
<rect x="121.00" y="590.50" width="5.00" height="5.00" fill="#452a55"/>
<rect x="128.70" y="595.40" width="5.00" height="5.00" fill="#452a55"/>
<rect x="124.70" y="609.60" width="5.00" height="5.00" fill="#452a55"/>
<rect x="148.90" y="594.90" width="5.00" height="5.00" fill="#452a55"/>
<rect x="156.00" y="589.90" width="5.00" height="5.00" fill="#452a55"/>
<circle cx="183.00" cy="583.70" r="2.45" fill="#659655"/>
<circle cx="183.00" cy="609.30" r="2.45" fill="#659655"/>
<circle cx="183.00" cy="620.80" r="2.45" fill="#659655"/>
<circle cx="183.00" cy="636.30" r="2.45" fill="#659655"/>
<circle cx="205.00" cy="586.50" r="2.45" fill="#659655"/>
<circle cx="210.50" cy="586.00" r="2.45" fill="#659655"/>
<circle cx="216.20" cy="582.00" r="2.45" fill="#659655"/>
<circle cx="214.50" cy="595.50" r="2.45" fill="#659655"/>
<circle cx="207.00" cy="600.00" r="2.45" fill="#659655"/>
<circle cx="238.30" cy="588.90" r="2.45" fill="#659655"/>
<circle cx="238.30" cy="605.60" r="2.45" fill="#659655"/>
<polygon points="261.50,666.12 263.70,670.08 259.30,670.08" fill="#9c1440"/>
<polygon points="264.50,665.62 266.70,669.58 262.30,669.58" fill="#9c1440"/>
<polygon points="267.50,665.62 269.70,669.58 265.30,669.58" fill="#9c1440"/>
<polygon points="270.30,666.12 272.50,670.08 268.10,670.08" fill="#9c1440"/>
<polygon points="287.00,666.12 289.20,670.08 284.80,670.08" fill="#9c1440"/>
<polygon points="290.00,665.62 292.20,669.58 287.80,669.58" fill="#9c1440"/>
<polygon points="293.00,665.62 295.20,669.58 290.80,669.58" fill="#9c1440"/>
<polygon points="296.00,665.62 298.20,669.58 293.80,669.58" fill="#9c1440"/>
<polygon points="299.80,666.12 302.00,670.08 297.60,670.08" fill="#9c1440"/>
<polygon points="318.00,666.12 320.20,670.08 315.80,670.08" fill="#9c1440"/>
<polygon points="321.50,665.62 323.70,669.58 319.30,669.58" fill="#9c1440"/>
<polygon points="325.00,666.12 327.20,670.08 322.80,670.08" fill="#9c1440"/>
<circle cx="346.20" cy="668.80" r="1.65" fill="#fff" stroke="#2f5288" stroke-width="1.2"/>
<circle cx="353.50" cy="668.40" r="1.65" fill="#fff" stroke="#2f5288" stroke-width="1.2"/>
<circle cx="372.20" cy="668.80" r="1.65" fill="#fff" stroke="#2f5288" stroke-width="1.2"/>
<circle cx="376.00" cy="668.80" r="1.65" fill="#fff" stroke="#2f5288" stroke-width="1.2"/>
<circle cx="379.80" cy="668.80" r="1.65" fill="#fff" stroke="#2f5288" stroke-width="1.2"/>
<circle cx="383.50" cy="668.80" r="1.65" fill="#fff" stroke="#2f5288" stroke-width="1.2"/>
<circle cx="405.60" cy="667.80" r="1.65" fill="#fff" stroke="#2f5288" stroke-width="1.2"/>
<polygon points="429.50,666.00 432.00,668.50 429.50,671.00 427.00,668.50" fill="#dc9a35"/>
<polygon points="433.50,665.50 436.00,668.00 433.50,670.50 431.00,668.00" fill="#dc9a35"/>
<polygon points="437.30,665.50 439.80,668.00 437.30,670.50 434.80,668.00" fill="#dc9a35"/>
<polygon points="458.00,666.00 460.50,668.50 458.00,671.00 455.50,668.50" fill="#dc9a35"/>
<polygon points="462.00,665.50 464.50,668.00 462.00,670.50 459.50,668.00" fill="#dc9a35"/>
<polygon points="465.00,664.80 467.50,667.30 465.00,669.80 462.50,667.30" fill="#dc9a35"/>
<polygon points="486.00,666.00 488.50,668.50 486.00,671.00 483.50,668.50" fill="#dc9a35"/>
<polygon points="492.00,665.80 494.50,668.30 492.00,670.80 489.50,668.30" fill="#dc9a35"/>
<rect x="96.80" y="811.50" width="5.00" height="5.00" fill="#452a55"/>
<rect x="96.80" y="827.30" width="5.00" height="5.00" fill="#452a55"/>
<rect x="101.00" y="832.70" width="5.00" height="5.00" fill="#452a55"/>
<rect x="93.50" y="836.70" width="5.00" height="5.00" fill="#452a55"/>
<rect x="96.80" y="858.10" width="5.00" height="5.00" fill="#452a55"/>
<rect x="96.80" y="888.90" width="5.00" height="5.00" fill="#452a55"/>
<rect x="124.70" y="809.40" width="5.00" height="5.00" fill="#452a55"/>
<rect x="124.70" y="825.70" width="5.00" height="5.00" fill="#452a55"/>
<rect x="124.70" y="852.20" width="5.00" height="5.00" fill="#452a55"/>
<rect x="124.70" y="869.00" width="5.00" height="5.00" fill="#452a55"/>
<rect x="117.00" y="881.60" width="5.00" height="5.00" fill="#452a55"/>
<rect x="128.30" y="881.30" width="5.00" height="5.00" fill="#452a55"/>
<rect x="121.00" y="887.80" width="5.00" height="5.00" fill="#452a55"/>
<rect x="128.30" y="892.70" width="5.00" height="5.00" fill="#452a55"/>
<rect x="124.70" y="903.00" width="5.00" height="5.00" fill="#452a55"/>
<rect x="148.50" y="848.00" width="5.00" height="5.00" fill="#452a55"/>
<rect x="156.00" y="842.50" width="5.00" height="5.00" fill="#452a55"/>
<circle cx="177.00" cy="912.00" r="2.45" fill="#659655"/>
<circle cx="181.00" cy="911.00" r="2.45" fill="#659655"/>
<circle cx="186.00" cy="911.00" r="2.45" fill="#659655"/>
<circle cx="204.00" cy="912.00" r="2.45" fill="#659655"/>
<circle cx="208.00" cy="912.00" r="2.45" fill="#659655"/>
<circle cx="212.00" cy="912.00" r="2.45" fill="#659655"/>
<circle cx="216.00" cy="912.00" r="2.45" fill="#659655"/>
<circle cx="233.00" cy="912.00" r="2.45" fill="#659655"/>
<circle cx="241.00" cy="911.50" r="2.45" fill="#659655"/>
<polygon points="259.00,910.92 261.20,914.88 256.80,914.88" fill="#9c1440"/>
<polygon points="262.50,910.62 264.70,914.58 260.30,914.58" fill="#9c1440"/>
<polygon points="266.00,910.62 268.20,914.58 263.80,914.58" fill="#9c1440"/>
<polygon points="269.50,910.92 271.70,914.88 267.30,914.88" fill="#9c1440"/>
<polygon points="287.00,910.92 289.20,914.88 284.80,914.88" fill="#9c1440"/>
<polygon points="290.50,910.62 292.70,914.58 288.30,914.58" fill="#9c1440"/>
<polygon points="294.00,910.62 296.20,914.58 291.80,914.58" fill="#9c1440"/>
<polygon points="297.50,910.92 299.70,914.88 295.30,914.88" fill="#9c1440"/>
<polygon points="318.00,910.92 320.20,914.88 315.80,914.88" fill="#9c1440"/>
<polygon points="324.00,910.92 326.20,914.88 321.80,914.88" fill="#9c1440"/>
<circle cx="342.50" cy="913.00" r="1.65" fill="#fff" stroke="#2f5288" stroke-width="1.2"/>
<circle cx="346.00" cy="913.00" r="1.65" fill="#fff" stroke="#2f5288" stroke-width="1.2"/>
<circle cx="349.50" cy="913.00" r="1.65" fill="#fff" stroke="#2f5288" stroke-width="1.2"/>
<circle cx="353.00" cy="913.00" r="1.65" fill="#fff" stroke="#2f5288" stroke-width="1.2"/>
<circle cx="370.00" cy="913.00" r="1.65" fill="#fff" stroke="#2f5288" stroke-width="1.2"/>
<circle cx="373.50" cy="913.00" r="1.65" fill="#fff" stroke="#2f5288" stroke-width="1.2"/>
<circle cx="377.00" cy="913.00" r="1.65" fill="#fff" stroke="#2f5288" stroke-width="1.2"/>
<circle cx="380.50" cy="913.00" r="1.65" fill="#fff" stroke="#2f5288" stroke-width="1.2"/>
<circle cx="399.50" cy="913.00" r="1.65" fill="#fff" stroke="#2f5288" stroke-width="1.2"/>
<circle cx="406.50" cy="913.00" r="1.65" fill="#fff" stroke="#2f5288" stroke-width="1.2"/>
<polygon points="431.00,895.30 433.50,897.80 431.00,900.30 428.50,897.80" fill="#dc9a35"/>
<polygon points="424.50,899.50 427.00,902.00 424.50,904.50 422.00,902.00" fill="#dc9a35"/>
<polygon points="427.50,897.80 430.00,900.30 427.50,902.80 425.00,900.30" fill="#dc9a35"/>
<polygon points="429.50,901.00 432.00,903.50 429.50,906.00 427.00,903.50" fill="#dc9a35"/>
<polygon points="433.50,898.30 436.00,900.80 433.50,903.30 431.00,900.80" fill="#dc9a35"/>
<polygon points="435.50,901.00 438.00,903.50 435.50,906.00 433.00,903.50" fill="#dc9a35"/>
<polygon points="437.50,898.70 440.00,901.20 437.50,903.70 435.00,901.20" fill="#dc9a35"/>
<polygon points="429.50,903.50 432.00,906.00 429.50,908.50 427.00,906.00" fill="#dc9a35"/>
<polygon points="433.50,903.50 436.00,906.00 433.50,908.50 431.00,906.00" fill="#dc9a35"/>
<polygon points="426.50,902.50 429.00,905.00 426.50,907.50 424.00,905.00" fill="#dc9a35"/>
<polygon points="438.00,902.00 440.50,904.50 438.00,907.00 435.50,904.50" fill="#dc9a35"/>
<polygon points="464.50,894.00 467.00,896.50 464.50,899.00 462.00,896.50" fill="#dc9a35"/>
<polygon points="453.50,897.00 456.00,899.50 453.50,902.00 451.00,899.50" fill="#dc9a35"/>
<polygon points="456.00,900.00 458.50,902.50 456.00,905.00 453.50,902.50" fill="#dc9a35"/>
<polygon points="460.00,898.50 462.50,901.00 460.00,903.50 457.50,901.00" fill="#dc9a35"/>
<polygon points="462.50,901.00 465.00,903.50 462.50,906.00 460.00,903.50" fill="#dc9a35"/>
<polygon points="452.00,903.00 454.50,905.50 452.00,908.00 449.50,905.50" fill="#dc9a35"/>
<polygon points="457.00,903.50 459.50,906.00 457.00,908.50 454.50,906.00" fill="#dc9a35"/>
<polygon points="461.50,904.00 464.00,906.50 461.50,909.00 459.00,906.50" fill="#dc9a35"/>
<polygon points="465.50,903.50 468.00,906.00 465.50,908.50 463.00,906.00" fill="#dc9a35"/>
<polygon points="458.50,908.50 461.00,911.00 458.50,913.50 456.00,911.00" fill="#dc9a35"/>
<polygon points="455.00,902.00 457.50,904.50 455.00,907.00 452.50,904.50" fill="#dc9a35"/>
<polygon points="483.50,899.10 485.90,901.50 483.50,903.90 481.10,901.50" fill="#dc9a35"/>
<polygon points="490.00,894.10 492.40,896.50 490.00,898.90 487.60,896.50" fill="#dc9a35"/>
</svg>
</body></html>
